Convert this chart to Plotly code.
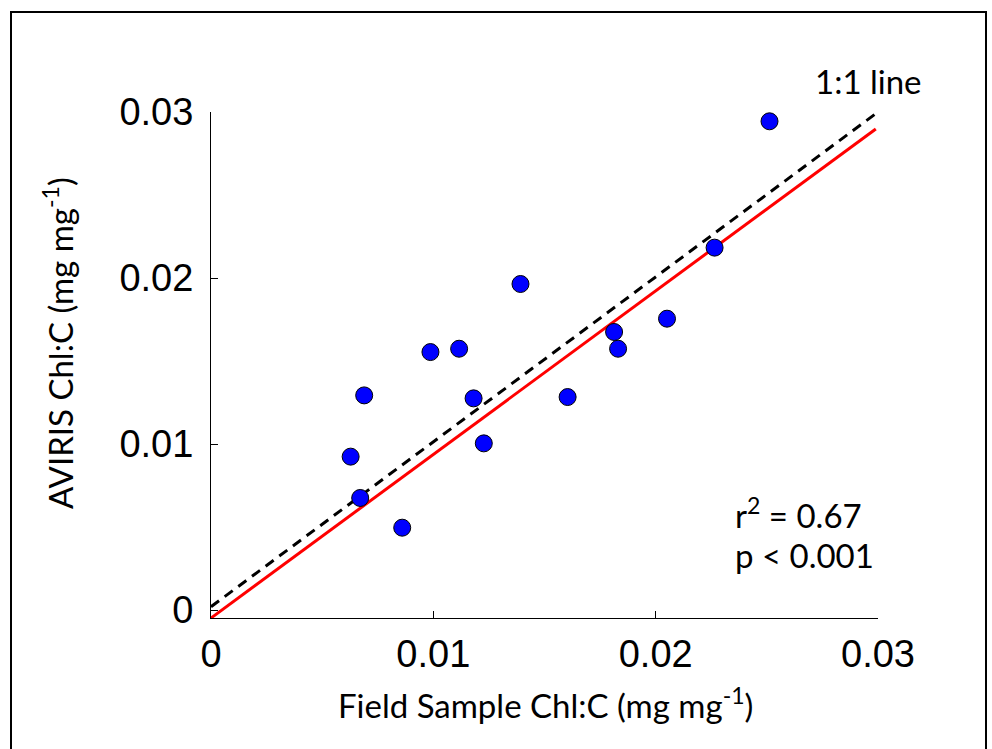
import plotly.graph_objects as go

# Data
field_chl = [0.02512, 0.02265, 0.02051, 0.01813, 0.01831, 0.01604, 0.01392,
             0.01116, 0.00987, 0.01181, 0.01227, 0.00689, 0.00628, 0.00671, 0.00860]
aviris_chl = [0.02944, 0.02183, 0.01755, 0.01675, 0.01574, 0.01283, 0.01964,
              0.01574, 0.01554, 0.01275, 0.01004, 0.01293, 0.00924, 0.00675, 0.00496]

fit_x = [0.0, 0.0299]
fit_y = [-0.00048, 0.02898]
one_x = [0.0, 0.03]
one_y = [0.0002, 0.03]

tick_vals = [0, 0.01, 0.02, 0.03]
tick_text = ["0", "0.01", "0.02", "0.03"]

L, R, T, B = 211, 114, 112, 131
W, H = 992, 749
pw, ph = W - L - R, H - T - B

def px(xpix):
    return (xpix - L) / pw

def py(ypix):
    return (H - B - ypix) / ph

TICK_FONT = dict(family="Liberation Sans, Arial", size=38, color="black")
TEXT_FONT = dict(family="Lato, Open Sans", size=33, color="black")

fig = go.Figure()
fig.add_trace(go.Scatter(x=one_x, y=one_y, mode="lines",
                         line=dict(color="black", width=3, dash="10px,7px"),
                         hoverinfo="skip", showlegend=False))
fig.add_trace(go.Scatter(x=fit_x, y=fit_y, mode="lines",
                         line=dict(color="#ff0000", width=3),
                         hoverinfo="skip", showlegend=False))
fig.add_trace(go.Scatter(x=field_chl, y=aviris_chl, mode="markers",
                         marker=dict(color="#0000ff", size=17,
                                     line=dict(color="black", width=1)),
                         cliponaxis=False, showlegend=False))

axis_common = dict(showgrid=False, zeroline=False, showline=True,
                   linecolor="black", linewidth=1, ticks="inside",
                   ticklen=7, tickwidth=1, tickcolor="black",
                   tickvals=tick_vals, ticktext=tick_text,
                   tickfont=TICK_FONT, mirror=False)

fig.update_layout(
    width=W, height=H,
    margin=dict(l=L, r=R, t=T, b=B, pad=0),
    paper_bgcolor="white", plot_bgcolor="white",
    xaxis=dict(range=[0, 0.03], ticklabelstandoff=2, **axis_common),
    yaxis=dict(range=[-0.00048, 0.03], ticklabelstandoff=9, **axis_common),
    font=dict(family="Lato, Open Sans", color="black"),
    annotations=[
        dict(text="Field Sample Chl:C (mg mg<sup>-1</sup>)", xref="paper", yref="paper",
             x=px(545), y=py(703), showarrow=False, xanchor="center", yanchor="middle",
             font=TEXT_FONT),
        dict(text="AVIRIS Chl:C (mg mg<sup>-1</sup>)", xref="paper", yref="paper",
             x=px(58), y=py(343), showarrow=False, xanchor="center", yanchor="middle",
             textangle=-90, font=TEXT_FONT),
        dict(text="1:1 line", xref="paper", yref="paper",
             x=px(813), y=py(81), showarrow=False, xanchor="left", yanchor="middle",
             font=TEXT_FONT),
        dict(text="r<sup>2</sup> = 0.67", xref="paper", yref="paper",
             x=px(733), y=py(513), showarrow=False, xanchor="left", yanchor="middle",
             font=TEXT_FONT),
        dict(text="p < 0.001", xref="paper", yref="paper",
             x=px(733), y=py(555), showarrow=False, xanchor="left", yanchor="middle",
             font=TEXT_FONT),
    ],
    shapes=[
        dict(type="rect", xref="paper", yref="paper",
             x0=px(11), x1=px(986), y0=py(770), y1=py(12),
             line=dict(color="black", width=2), fillcolor="rgba(0,0,0,0)"),
    ],
)

fig.write_html("out.html")
